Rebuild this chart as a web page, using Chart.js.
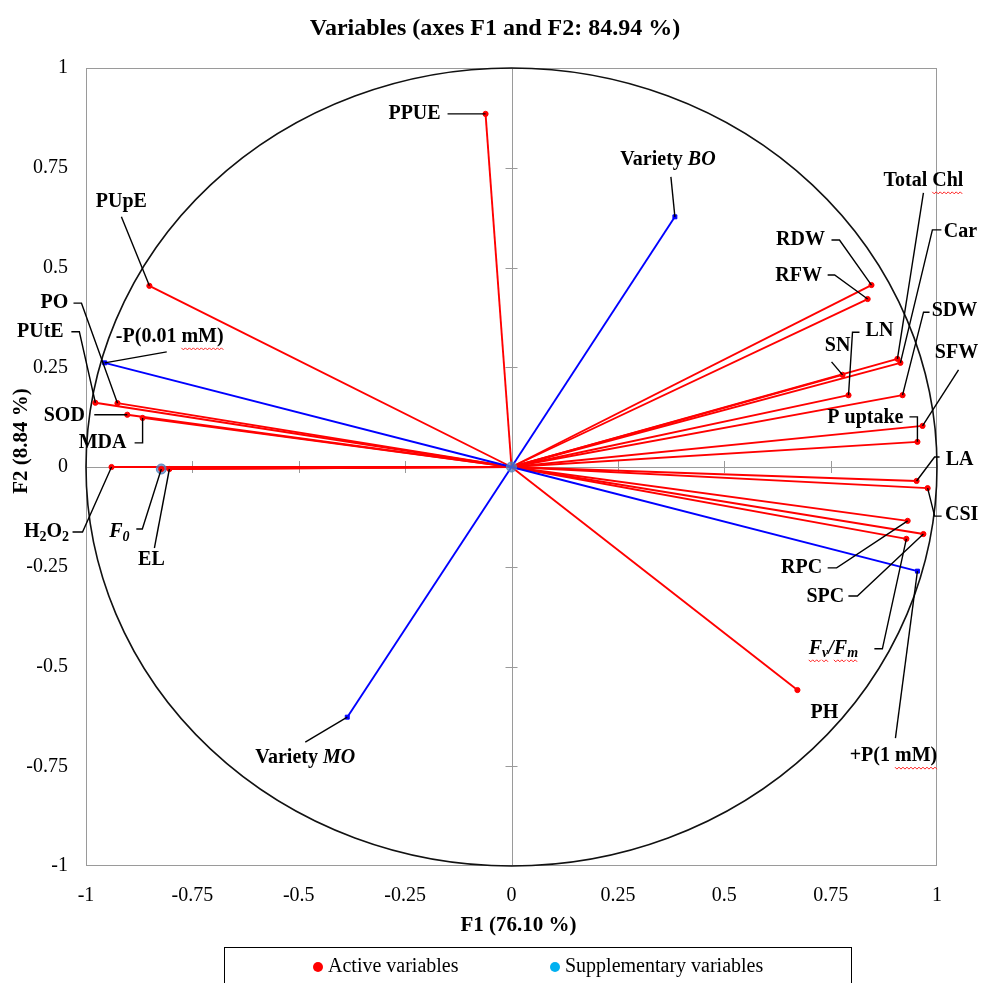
<!DOCTYPE html>
<html><head><meta charset="utf-8">
<script src="https://cdn.jsdelivr.net/npm/chart.js@4.4.1/dist/chart.umd.min.js"></script>
<style>html,body{margin:0;padding:0;background:#fff;}#wrap{width:982px;height:983px;position:relative;}</style>
</head><body><div id="wrap"><canvas id="c"></canvas></div>
<script>
// ---- data (correlations with F1 / F2) ----
const activeNames = ['PPUE','PUpE','PO','PUtE','SOD','MDA','H2O2','F0','EL','RDW','RFW','Total Chl','Car','SN','LN','SDW','SFW','P uptake','LA','CSI','RPC','SPC','Fv/Fm','PH'];
const activeF1 = [-0.061,-0.851,-0.926,-0.978,-0.903,-0.867,-0.940,-0.823,-0.804,0.846,0.837,0.907,0.914,0.778,0.792,0.919,0.966,0.954,0.952,0.978,0.931,0.968,0.928,0.672];
const activeF2 = [0.885,0.454,0.160,0.161,0.131,0.123,0.000,-0.005,-0.005,0.456,0.421,0.271,0.261,0.231,0.180,0.180,0.103,0.063,-0.035,-0.053,-0.135,-0.168,-0.180,-0.559];
const suppNames = ['Variety BO','-P(0.01 mM)','Variety MO','+P(1 mM)'];
const suppF1 = [0.384,-0.956,-0.386,0.954];
const suppF2 = [0.627,0.261,-0.627,-0.261];
const axisTicks = [-1,-0.75,-0.5,-0.25,0,0.25,0.5,0.75,1];
const titleText = 'Variables (axes F1 and F2: 84.94 %)';
const xTitle = 'F1 (76.10 %)';
const yTitle = 'F2 (8.84 %)';
const legendLabels = ['Active variables','Supplementary variables'];

// ---- styling / label layout (pixel offsets from each variable's point) ----
const RED = '#ff0000', BLUE = '#0000ff', LBLUE = '#00b0f0';
const SERIF = '"Liberation Serif", "Times New Roman", serif';
const labelLayout = {
  'PPUE':{dx:-71,dy:0,lead:[[-38,0]]},
  'PUpE':{dx:-28,dy:-84,lead:[[-28,-69]]},
  'PO':{dx:-63,dy:-100,lead:[[-44,-100],[-36,-100]]},
  'PUtE':{dx:-55,dy:-71,lead:[[-24,-71],[-16,-71]]},
  'SOD':{dx:-63,dy:1,lead:[[-33,0]]},
  'MDA':{dx:-40,dy:25,lead:[[-8,25],[0,25]]},
  'H2O2':{dx:-65,dy:65,lead:[[-39,65],[-29,65]]},
  'F0':{dx:-42,dy:63,lead:[[-25,60],[-19,60]]},
  'EL':{dx:-18,dy:91,lead:[[-15,79]]},
  'RDW':{dx:-71,dy:-45,lead:[[-40,-45],[-32,-45]]},
  'RFW':{dx:-69,dy:-23,lead:[[-40,-24],[-33,-24]]},
  'Total Chl':{dx:26,dy:-178,lead:[[26,-166]]},
  'Car':{dx:60,dy:-131,lead:[[41,-133],[32,-133]]},
  'SN':{dx:-5,dy:-29,lead:[[-11,-13]]},
  'LN':{dx:31,dy:-64,lead:[[11,-63],[4,-63]]},
  'SDW':{dx:52,dy:-84,lead:[[27,-83],[21,-83]]},
  'SFW':{dx:34,dy:-73,lead:[[36,-56]]},
  'P uptake':{dx:-52,dy:-24,lead:[[-8,-25],[0,-25]]},
  'LA':{dx:43,dy:-21,lead:[[23,-24],[18,-24]]},
  'CSI':{dx:34,dy:27,lead:[[14,28],[7,28]]},
  'RPC':{dx:-106,dy:47,lead:[[-80,47],[-71,47]]},
  'SPC':{dx:-98,dy:63,lead:[[-75,62],[-66,62]]},
  'Fv/Fm':{dx:-73,dy:110,lead:[[-32,110],[-24,110]]},
  'PH':{dx:27,dy:23,lead:[]},
  'Variety BO':{dx:-7,dy:-57,lead:[[-4,-40]]},
  '-P(0.01 mM)':{dx:65,dy:-26,lead:[[62,-11]]},
  'Variety MO':{dx:-42,dy:41,lead:[[-42,25]]},
  '+P(1 mM)':{dx:-24,dy:185,lead:[[-22,167]]}
};
// rich text segments: flags i=italic, s=subscript, w=wavy underline
const richText = {
  'H2O2':[['H',''],['2','s'],['O',''],['2','s']],
  'F0':[['F','i'],['0','is']],
  'Fv/Fm':[['F','iw'],['v','isw'],['/','i'],['F','iw'],['m','isw']],
  'Variety BO':[['Variety ',''],['BO','i']],
  'Variety MO':[['Variety ',''],['MO','i']],
  'Total Chl':[['Total ',''],['Chl','w']],
  '-P(0.01 mM)':[['-P(0.01 ',''],['mM)','w']],
  '+P(1 mM)':[['+P(1 ',''],['mM)','w']]
};

function vecDataset(f1, f2, color){
  return {type:'scatter', data:[{x:0,y:0},{x:f1,y:f2}], showLine:true, borderColor:color, borderWidth:1.9, pointRadius:0, pointHoverRadius:0, order:5};
}
const datasets = [];
activeNames.forEach((n,i)=>datasets.push(vecDataset(activeF1[i],activeF2[i],RED)));
suppNames.forEach((n,i)=>{const d=vecDataset(suppF1[i],suppF2[i],BLUE); d.order=4; datasets.push(d);});
datasets.push({label:legendLabels[0], data:activeNames.map((n,i)=>({x:activeF1[i],y:activeF2[i]})), pointRadius:2.6, pointBackgroundColor:RED, pointBorderColor:RED, order:2});
datasets.push({label:legendLabels[1], data:suppNames.map((n,i)=>({x:suppF1[i],y:suppF2[i]})), pointRadius:2.8, pointStyle:'rect', pointBackgroundColor:BLUE, pointBorderColor:BLUE, order:2});
const f0i = activeNames.indexOf('F0');
datasets.push({label:'hl', data:[{x:0,y:0},{x:activeF1[f0i],y:activeF2[f0i]}], pointRadius:5, pointBackgroundColor:'rgba(80,130,190,0.75)', pointBorderColor:'rgba(80,130,190,0.9)', order:3});

function drawRich(ctx, name, cx, cy){
  const segs = richText[name] || [[name,'']];
  const fontFor = f => (f.includes('i')?'italic ':'') + 'bold ' + (f.includes('s')?'14px ':'20px ') + SERIF;
  let total = 0;
  const widths = segs.map(([t,f])=>{ctx.font=fontFor(f); const w=ctx.measureText(t).width; total+=w; return w;});
  let xx = cx - total/2;
  ctx.textBaseline='middle'; ctx.textAlign='left';
  segs.forEach(([t,f],k)=>{
    ctx.font = fontFor(f); ctx.fillStyle='#000';
    ctx.fillText(t, xx, cy + (f.includes('s')?5:0));
    if (f.includes('w')){
      ctx.save(); ctx.strokeStyle='#ff2020'; ctx.lineWidth=1; ctx.beginPath();
      const yy = cy + 12;
      for (let p=0;p<=widths[k];p+=2){ const yv = yy + ((p/2)%2===0?-1:1); if(p===0) ctx.moveTo(xx+p,yv); else ctx.lineTo(xx+p,yv);} 
      ctx.stroke(); ctx.restore();
    }
    xx += widths[k];
  });
}

const deco = {
  id:'deco',
  beforeDatasetsDraw(chart){
    const {ctx, chartArea:a, scales:{x,y}} = chart;
    const cx=x.getPixelForValue(0), cy=y.getPixelForValue(0);
    ctx.save();
    ctx.strokeStyle='#9a9a9a'; ctx.lineWidth=1;
    ctx.strokeRect(a.left+0.5,a.top+0.5,a.right-a.left-1,a.bottom-a.top-1);
    ctx.beginPath();
    ctx.moveTo(Math.round(cx)+0.5,a.top); ctx.lineTo(Math.round(cx)+0.5,a.bottom);
    ctx.moveTo(a.left,Math.round(cy)+0.5); ctx.lineTo(a.right,Math.round(cy)+0.5);
    axisTicks.forEach(v=>{
      if (v===0 || Math.abs(v)===1) return;
      const px=Math.round(x.getPixelForValue(v))+0.5, py=Math.round(y.getPixelForValue(v))+0.5;
      ctx.moveTo(px,cy-6); ctx.lineTo(px,cy+6);
      ctx.moveTo(cx-6,py); ctx.lineTo(cx+6,py);
    });
    ctx.stroke();
    // correlation circle
    ctx.strokeStyle='#111'; ctx.lineWidth=1.6;
    ctx.beginPath();
    ctx.ellipse(cx,cy,x.getPixelForValue(1)-cx,cy-y.getPixelForValue(1),0,0,Math.PI*2);
    ctx.stroke();
    ctx.restore();
  },
  afterDatasetsDraw(chart){
    const {ctx, scales:{x,y}} = chart;
    ctx.save();
    const all = activeNames.map((n,i)=>[n,activeF1[i],activeF2[i]]).concat(suppNames.map((n,i)=>[n,suppF1[i],suppF2[i]]));
    all.forEach(([n,f1,f2])=>{
      const L = labelLayout[n]; if(!L) return;
      const px=x.getPixelForValue(f1), py=y.getPixelForValue(f2);
      if (L.lead.length){
        ctx.strokeStyle='#000'; ctx.lineWidth=1.4; ctx.beginPath();
        L.lead.forEach(([dx,dy],k)=>{ if(k===0) ctx.moveTo(px+dx,py+dy); else ctx.lineTo(px+dx,py+dy); });
        ctx.lineTo(px,py); ctx.stroke();
      }
      drawRich(ctx,n,px+L.dx,py+L.dy);
    });
    ctx.restore();
  },
  afterDraw(chart){
    const {ctx, chartArea:a} = chart;
    ctx.save();
    ctx.fillStyle='#000'; ctx.textAlign='center'; ctx.textBaseline='middle';
    ctx.font='bold 24px '+SERIF;
    ctx.fillText(titleText, 495, 29);
    ctx.font='bold 21px '+SERIF;
    ctx.fillText(xTitle, (a.left+a.right)/2+7, 926);
    ctx.save(); ctx.translate(22,441); ctx.rotate(-Math.PI/2); ctx.fillText(yTitle,0,0); ctx.restore();
    // legend box
    ctx.strokeStyle='#000'; ctx.lineWidth=1;
    ctx.strokeRect(224.5,947.5,627,50);
    const items=[[318,RED],[555,LBLUE]];
    ctx.font='20px '+SERIF; ctx.textAlign='left';
    items.forEach(([lx,col],k)=>{
      ctx.fillStyle=col; ctx.beginPath(); ctx.arc(lx,967,5,0,Math.PI*2); ctx.fill();
      ctx.fillStyle='#000'; ctx.fillText(legendLabels[k], lx+10, 967);
    });
    ctx.restore();
  }
};

const tickFont = {family:SERIF, size:20};
new Chart(document.getElementById('c'), {
  type:'scatter',
  data:{datasets},
  options:{
    responsive:true, maintainAspectRatio:false, animation:false, devicePixelRatio:1,
    layout:{padding:{left:0,right:45,top:68,bottom:77}},
    plugins:{legend:{display:false}, title:{display:false}, tooltip:{enabled:false}},
    scales:{
      x:{type:'linear', min:-1, max:1, grid:{display:false,drawTicks:false}, border:{display:false},
         afterBuildTicks:s=>{s.ticks=axisTicks.map(v=>({value:v}));},
         afterFit:s=>{s.height=40;},
         ticks:{font:tickFont, color:'#000', padding:18, maxRotation:0, autoSkip:false, callback:v=>String(v)}},
      y:{type:'linear', min:-1, max:1, grid:{display:false,drawTicks:false}, border:{display:false},
         afterBuildTicks:s=>{s.ticks=axisTicks.map(v=>({value:v}));},
         afterFit:s=>{s.width=86;},
         ticks:{font:tickFont, color:'#000', padding:18, autoSkip:false, callback:v=>String(v)}}
    }
  },
  plugins:[deco]
});
</script></body></html>
